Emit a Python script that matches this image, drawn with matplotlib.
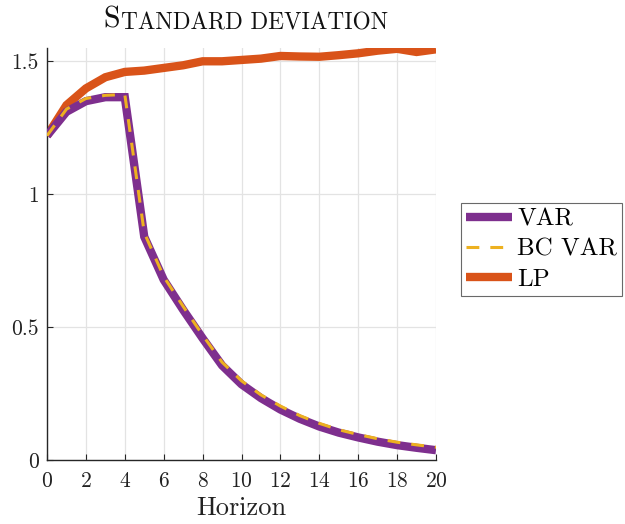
import matplotlib
matplotlib.use("Agg")
import matplotlib.pyplot as plt

plt.rcParams['font.family'] = ['cmr10', 'DejaVu Serif']
plt.rcParams['axes.formatter.use_mathtext'] = True
plt.rcParams['mathtext.fontset'] = 'cm'

# dati
horizon = list(range(21))
var_sd = [1.22, 1.31, 1.35, 1.365, 1.365, 0.84, 0.678, 0.565, 0.458, 0.356, 0.285,
          0.233, 0.19, 0.155, 0.126, 0.103, 0.085, 0.069, 0.056, 0.046, 0.037]
bcvar_sd = [1.22, 1.32, 1.36, 1.372, 1.375, 0.855, 0.69, 0.578, 0.47, 0.368, 0.298,
            0.245, 0.203, 0.167, 0.138, 0.114, 0.096, 0.08, 0.067, 0.057, 0.048]
lp_sd = [1.22, 1.335, 1.398, 1.44, 1.46, 1.465, 1.475, 1.485, 1.50, 1.50, 1.505,
         1.51, 1.52, 1.518, 1.517, 1.523, 1.53, 1.54, 1.547, 1.535, 1.545]
labels = ['VAR', 'BC VAR', 'LP']
xticks = list(range(0, 21, 2))
yticks = [0, 0.5, 1, 1.5]
yticklabels = ['0', '0.5', '1', '1.5']

fig = plt.figure(figsize=(6.25, 5.24), dpi=100)
ax = fig.add_axes([0.0752, 0.1221, 0.6224, 0.7863])

ax.plot(horizon, var_sd, color='#7E2F8E', lw=6, solid_capstyle='butt',
        solid_joinstyle='miter', label=labels[0], zorder=3)
ax.plot(horizon, bcvar_sd, color='#EDB120', lw=2.2, ls=(0, (4.2, 3.6)),
        dash_capstyle='butt', label=labels[1], zorder=4)
ax.plot(horizon, lp_sd, color='#D95319', lw=6, solid_capstyle='butt',
        solid_joinstyle='miter', label=labels[2], zorder=2)

ax.set_xlim(0, 20)
ax.set_ylim(0, 1.55)
ax.set_xticks(xticks)
ax.set_yticks(yticks)
ax.set_yticklabels(yticklabels)
ax.grid(True, color='#E3E3E3', lw=0.9)
ax.set_axisbelow(True)
for s in ['top', 'right']:
    ax.spines[s].set_visible(False)
for s in ['left', 'bottom']:
    ax.spines[s].set_color('#262626')
    ax.spines[s].set_linewidth(1.0)
ax.tick_params(direction='in', length=4, width=0.8, colors='#262626',
               labelsize=15.5, labelcolor='#222222', pad=6)
ax.tick_params(axis='x', pad=8)
ax.set_xlabel('Horizon', fontsize=19, color='#222222', labelpad=4)

# titolo in maiuscoletto
t1 = fig.text(103 / 625, 1 - 28 / 524, 'S', fontsize=21.5,
              ha='left', va='baseline', color='#111111')
ax.annotate('TANDARD DEVIATION', xy=(1, 0), xycoords=t1, xytext=(1, 0),
            textcoords='offset points', fontsize=16.8, va='bottom',
            ha='left', color='#111111')

leg = ax.legend(loc='center left', bbox_to_anchor=(1.064, 0.511), fontsize=18,
                frameon=True, fancybox=False, edgecolor='#444444',
                handlelength=1.85, handletextpad=0.2, borderpad=0.2,
                labelspacing=0.3, borderaxespad=0.0)
leg.get_frame().set_linewidth(0.8)

fig.savefig('out.png', dpi=100)
